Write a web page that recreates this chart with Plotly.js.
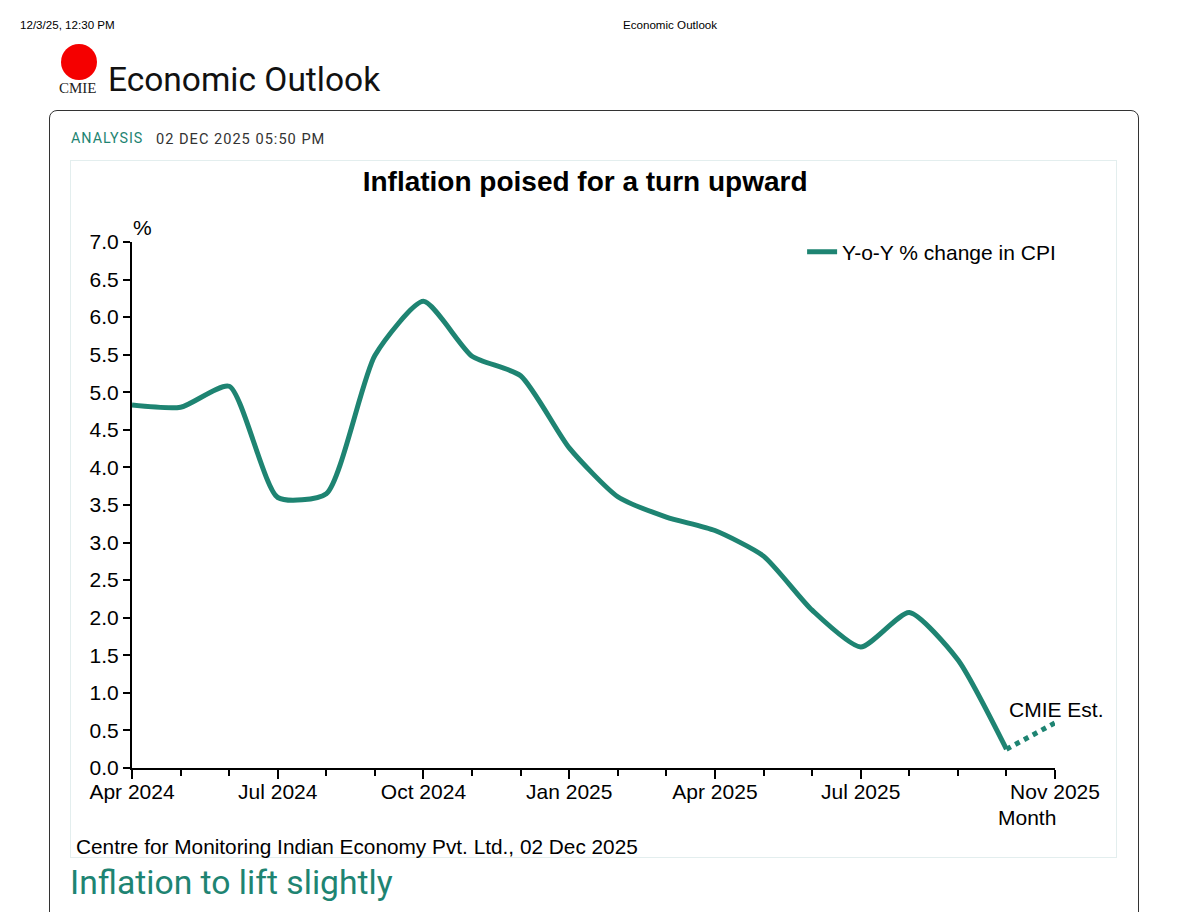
<!DOCTYPE html>
<html>
<head>
<meta charset="utf-8">
<script src="https://cdn.plot.ly/plotly-3.0.1.min.js"></script>
<style>
  html, body { margin:0; padding:0; background:#fff; width:1199px; height:912px; overflow:hidden; font-family: Arial, "Liberation Sans", sans-serif; }
  .abs { position:absolute; white-space:nowrap; }
  #hdr1 { left:20px; top:18px; font-size:11.6px; color:#000; font-family:"Liberation Sans", Arial, sans-serif; }
  #hdr2 { left:623px; top:18px; font-size:11.6px; color:#000; font-family:"Liberation Sans", Arial, sans-serif; }
  #logo { left:61px; top:44px; width:36px; height:36px; border-radius:50%; background:#f50000; }
  #logotxt { left:59px; top:80px; font-family:"Liberation Serif", "DejaVu Serif", serif; font-size:15px; color:#222; }
  #brand { left:108px; top:60px; font-family: Roboto, "Noto Sans", sans-serif; font-size:33.5px; color:#111; }
  #card { left:49px; top:110px; width:1090px; height:830px; border:1.5px solid #333; border-radius:8px; box-sizing:border-box; }
  #analysis { left:71px; top:130px; font-family: Roboto, sans-serif; font-size:14.3px; letter-spacing:1px; color:#1e8472; }
  #date { left:156px; top:130px; font-family: Roboto, sans-serif; font-size:14.6px; letter-spacing:1px; color:#333; }
  #frame { left:70px; top:160px; width:1047px; height:698px; border:1px solid #e3eeee; box-sizing:border-box; }
  #chart { left:70px; top:160px; width:1047px; height:698px; }
  #sub { left:70px; top:863px; font-family: Roboto, sans-serif; font-size:33.7px; color:#1e8472; }
</style>
</head>
<body>
<div class="abs" id="hdr1">12/3/25, 12:30 PM</div>
<div class="abs" id="hdr2">Economic Outlook</div>
<div class="abs" id="logo"></div>
<div class="abs" id="logotxt">CMIE</div>
<div class="abs" id="brand">Economic Outlook</div>
<div class="abs" id="card"></div>
<div class="abs" id="analysis">ANALYSIS</div>
<div class="abs" id="date">02 DEC 2025 05:50 PM</div>
<div class="abs" id="frame"></div>
<div class="abs" id="chart"></div>
<div class="abs" id="sub">Inflation to lift slightly</div>
<script>
// Data
const months = ["Apr 2024","May 2024","Jun 2024","Jul 2024","Aug 2024","Sep 2024","Oct 2024","Nov 2024","Dec 2024",
  "Jan 2025","Feb 2025","Mar 2025","Apr 2025","May 2025","Jun 2025","Jul 2025","Aug 2025","Sep 2025","Oct 2025"];
const cpiYoY = [4.83, 4.80, 5.08, 3.60, 3.65, 5.49, 6.21, 5.48, 5.22, 4.26, 3.61, 3.34, 3.16, 2.82, 2.10, 1.61, 2.07, 1.44, 0.25];
const estMonths = ["Oct 2025", "Nov 2025"];
const estValues = [0.25, 0.60];
const tickMonths = ["Apr 2024","Jul 2024","Oct 2024","Jan 2025","Apr 2025","Jul 2025","Nov 2025"];

const allMonths = months.concat(["Nov 2025"]);
const idx = m => allMonths.indexOf(m);
const teal = "#1e8472";

const traces = [
  { x: months.map(idx), y: cpiYoY, type: "scatter", mode: "lines", name: "Y-o-Y % change in CPI",
    line: { color: teal, width: 5, shape: "spline", smoothing: 0.6 }, cliponaxis: false, hoverinfo: "x+y" },
  { x: estMonths.map(idx), y: estValues, type: "scatter", mode: "lines", name: "CMIE Est.", showlegend: false,
    line: { color: teal, width: 5, dash: "dot" }, cliponaxis: false }
];

const font = { family: "Arial, 'Liberation Sans', sans-serif", color: "#000" };

const layout = {
  width: 1047, height: 698,
  margin: { l: 62, r: 62, t: 82, b: 90, pad: 0, autoexpand: false },
  paper_bgcolor: "rgba(0,0,0,0)", plot_bgcolor: "rgba(0,0,0,0)",
  font: Object.assign({ size: 21 }, font),
  title: { text: "<b>Inflation poised for a turn upward</b>", font: Object.assign({}, font, { size: 28 }),
    x: 0.492, xref: "container", xanchor: "center", y: 1 - 21/698, yref: "container", yanchor: "middle" },
  showlegend: true,
  legend: { x: 0.726, xanchor: "left", y: 0.981, yanchor: "middle", font: Object.assign({}, font, { size: 21 }),
    bgcolor: "rgba(0,0,0,0)", borderwidth: 0, itemwidth: 30 },
  xaxis: {
    range: [0, 19], showgrid: false, zeroline: false, showline: true, linecolor: "#000", linewidth: 2,
    tickmode: "array", tickvals: tickMonths.map(idx), ticktext: tickMonths,
    ticks: "outside", ticklen: 9, tickwidth: 2, tickcolor: "#000", ticklabelstandoff: -5,
    tickfont: Object.assign({}, font, { size: 21 }),
    minor: { dtick: 1, tick0: 0, ticks: "outside", ticklen: 6, tickwidth: 2, tickcolor: "#000", showgrid: false },
    fixedrange: true
  },
  yaxis: {
    range: [0, 7], showgrid: false, zeroline: false, showline: true, linecolor: "#000", linewidth: 2,
    dtick: 0.5, tick0: 0, tickformat: ".1f",
    ticks: "outside", ticklen: 7, tickwidth: 2, tickcolor: "#000",
    tickfont: Object.assign({}, font, { size: 21 }),
    fixedrange: true
  },
  annotations: [
    { text: "%", xref: "paper", yref: "paper", x: 0.0118, y: 1.027, xanchor: "center", yanchor: "middle",
      showarrow: false, font: Object.assign({}, font, { size: 21 }) },
    { text: "CMIE Est.", xref: "paper", yref: "paper", x: 1.0555, y: 0.112, xanchor: "right", yanchor: "middle",
      showarrow: false, font: Object.assign({}, font, { size: 21 }) },
    { text: "Month", xref: "paper", yref: "paper", x: 0.97, y: -0.094, xanchor: "center", yanchor: "middle",
      showarrow: false, font: Object.assign({}, font, { size: 21 }) },
    { text: "Centre for Monitoring Indian Economy Pvt. Ltd., 02 Dec 2025", xref: "paper", yref: "paper",
      x: -0.063, y: -0.1485, xanchor: "left", yanchor: "middle",
      showarrow: false, font: Object.assign({}, font, { size: 20.8 }) }
  ]
};

Plotly.newPlot("chart", traces, layout, { displayModeBar: false, staticPlot: true });
</script>
</body>
</html>
